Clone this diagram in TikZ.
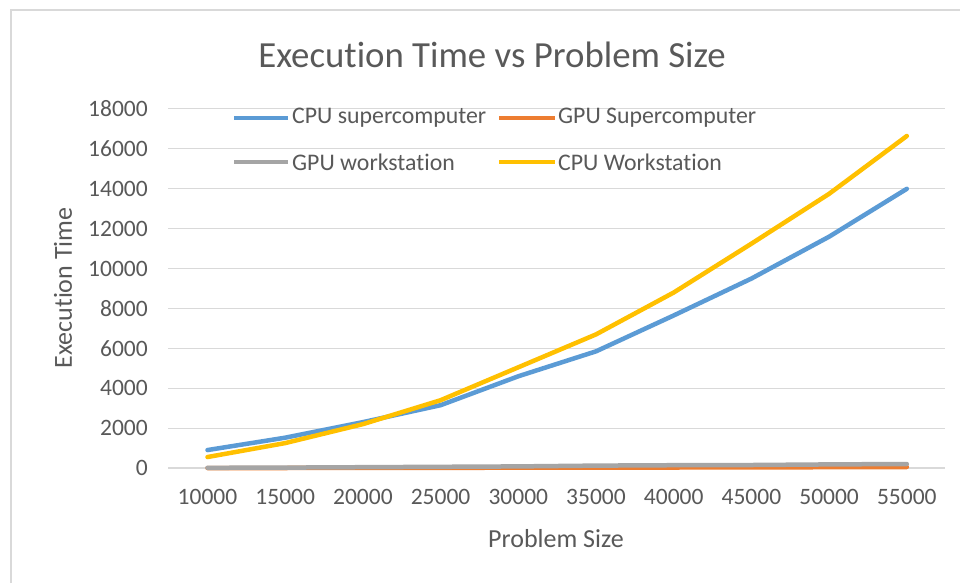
\documentclass[tikz,border=0pt]{standalone}
\usepackage{fontspec}
\setmainfont{Carlito}[Ligatures={NoCommon}]
\definecolor{txt}{HTML}{595959}
\definecolor{grid}{HTML}{D9D9D9}
\definecolor{frame}{HTML}{D9D9D9}
\definecolor{cblue}{HTML}{5B9BD5}
\definecolor{corange}{HTML}{ED7D31}
\definecolor{cgray}{HTML}{A5A5A5}
\definecolor{cyellow}{HTML}{FFC000}
\begin{document}
\begin{tikzpicture}[x=1pt,y=-1pt,
  tick/.style={text=txt,font=\fontsize{23.5}{26}\selectfont,inner sep=0pt},
  legtext/.style={text=txt,font=\fontsize{23.8}{26}\selectfont,inner sep=0pt,anchor=west},
  axtitle/.style={text=txt,font=\fontsize{26}{30}\selectfont,inner sep=0pt},
  series/.style={line width=4.5pt,line cap=round,line join=round},
  gridline/.style={draw=grid,line width=1.2pt}]
\useasboundingbox (0,0) rectangle (960,583);
\fill[white] (0,0) rectangle (960,583);
% frame
\draw[frame,line width=2pt] (11,583) -- (11,10) -- (960,10);
% title
\node[text=txt,font=\fontsize{36.8}{40}\selectfont,inner sep=0pt] (title) at (492,55) {Execution Time vs Problem Size};
% gridlines and y labels
\foreach \v [count=\i from 0] in {0,2000,4000,6000,8000,10000,12000,14000,16000,18000}{
  \draw[gridline] (168,{468-\i*39.9}) -- (945,{468-\i*39.9});
  \node[tick,anchor=east] (ylab\i) at (148,{468-\i*39.9}) {\v};
}
% x labels
\foreach \v [count=\i from 0] in {10000,15000,20000,25000,30000,35000,40000,45000,50000,55000}{
  \node[tick] (xlab\i) at ({207.5+\i*77.7},497) {\v};
}
% axis titles
\node[axtitle] (xtitle) at (556,539) {Problem Size};
\node[axtitle,rotate=90] (ytitle) at (63,288) {Execution Time};
% data
\begin{scope}[shift={(207.5,468)},x=77.7pt,y=19.94pt]
\draw[series,cblue] plot coordinates {(0,0.9) (1,1.52) (2,2.3) (3,3.15) (4,4.6) (5,5.85) (6,7.65) (7,9.5) (8,11.6) (9,14.0)};
\draw[series,corange] plot coordinates {(0,0.0) (1,0.0) (2,0.01) (3,0.01) (4,0.015) (5,0.02) (6,0.025) (7,0.03) (8,0.04) (9,0.05)};
\draw[series,cgray] plot coordinates {(0,0.01) (1,0.02) (2,0.04) (3,0.06) (4,0.08) (5,0.12) (6,0.14) (7,0.15) (8,0.18) (9,0.2)};
\draw[series,cyellow] plot coordinates {(0,0.55) (1,1.25) (2,2.2) (3,3.4) (4,5.05) (5,6.7) (6,8.8) (7,11.25) (8,13.75) (9,16.65)};
\end{scope}
% legend
\coordinate (l1a) at (234,118); \coordinate (l1b) at (288,118);
\coordinate (l2a) at (499,118); \coordinate (l2b) at (555,118);
\coordinate (l3a) at (234,162); \coordinate (l3b) at (288,162);
\coordinate (l4a) at (499,162); \coordinate (l4b) at (555,162);
\draw[series,cblue,line cap=butt] (l1a) -- (l1b);
\draw[series,corange,line cap=butt] (l2a) -- (l2b);
\draw[series,cgray,line cap=butt] (l3a) -- (l3b);
\draw[series,cyellow,line cap=butt] (l4a) -- (l4b);
\node[legtext] (leg1) at (292,118) {CPU supercomputer};
\node[legtext] (leg2) at (558,118) {GPU Supercomputer};
\node[legtext] (leg3) at (292,162) {GPU workstation};
\node[legtext] (leg4) at (558,162) {CPU Workstation};
\end{tikzpicture}
\end{document}
